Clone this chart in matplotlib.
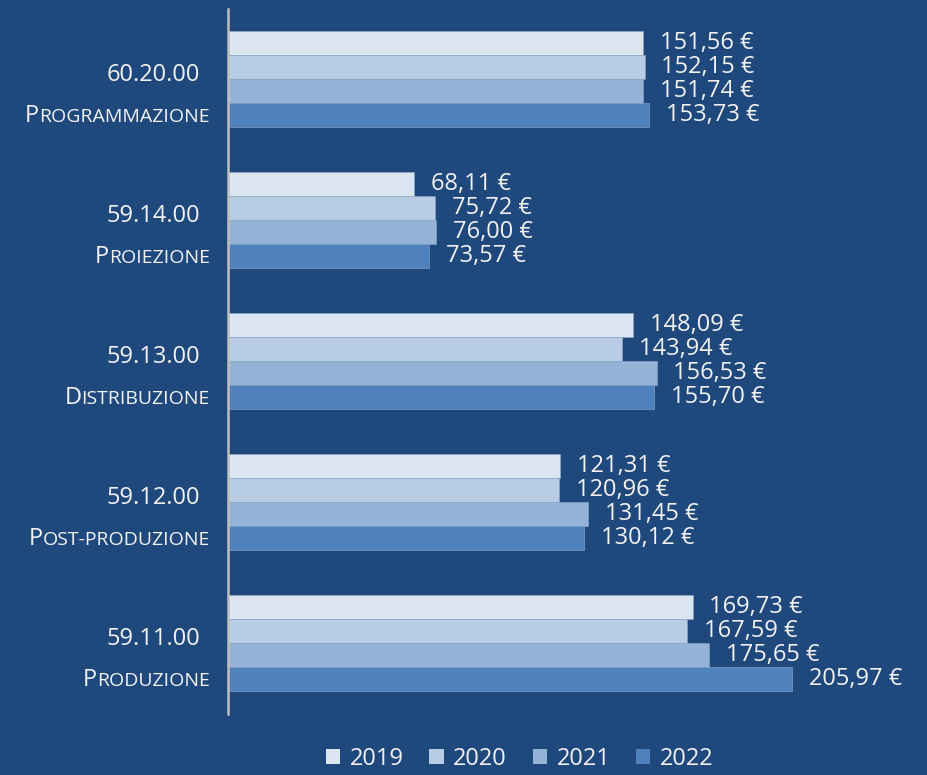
import numpy as np
import matplotlib
matplotlib.use("Agg")
import matplotlib.pyplot as plt

plt.rcParams["font.family"] = ["Open Sans", "DejaVu Sans"]

codes = ["59.11.00", "59.12.00", "59.13.00", "59.14.00", "60.20.00"]
names = ["Produzione", "Post-produzione", "Distribuzione", "Proiezione", "Programmazione"]
years = ["2019", "2020", "2021", "2022"]
v2019 = [169.73, 121.31, 148.09, 68.11, 151.56]
v2020 = [167.59, 120.96, 143.94, 75.72, 152.15]
v2021 = [175.65, 131.45, 156.53, 76.00, 151.74]
v2022 = [205.97, 130.12, 155.70, 73.57, 153.73]
colors = ["#DCE6F1", "#B8CCE4", "#95B3D7", "#4F81BD"]

bg = "#1F497D"
fg = "#F2F2F2"

fig = plt.figure(figsize=(9.28, 7.75), dpi=100, facecolor=bg)
ax = fig.add_axes([228 / 928, 61.5 / 775, 1 - 228 / 928, 705 / 775])
ax.set_facecolor(bg)

y = np.arange(len(codes))
h = 0.17
series = [v2019, v2020, v2021, v2022]
for i, (vals, c, yr) in enumerate(zip(series, colors, years)):
    pos = y + (1.5 - i) * h
    ax.barh(pos, vals, height=h, color=c, edgecolor="#8EA9CC", linewidth=0.4, label=yr)
    for yy, v in zip(pos, vals):
        ax.annotate(f"{v:.2f} €".replace(".", ","), xy=(v, yy), xytext=(12, 0),
                    textcoords="offset points", va="center", ha="left",
                    color=fg, fontsize=17)

ax.set_xlim(0, 700 / 2.738)
ax.set_ylim(-0.5, len(codes) - 0.5)
for s in ["top", "right", "bottom"]:
    ax.spines[s].set_visible(False)
ax.spines["left"].set_color("#BFBFBF")
ax.spines["left"].set_linewidth(1.8)
ax.set_xticks([])
ax.set_yticks([])

renderer = fig.canvas.get_renderer()
px2pt = 72 / fig.dpi


def small_caps(text, yy, right_px, dy_pt, big=17, small=14):
    # split into runs of capitals (big) and lowercase (small, shown uppercase)
    runs = []
    for ch in text:
        kind = ch.isupper()
        if runs and runs[-1][0] == kind:
            runs[-1][1] += ch
        else:
            runs.append([kind, ch])
    offset = -right_px
    for kind, s in reversed(runs):
        t = ax.annotate(s.upper(), xy=(0, yy), xytext=(offset * px2pt, dy_pt),
                        textcoords="offset points", ha="right", va="baseline",
                        color=fg, fontsize=big if kind else small,
                        annotation_clip=False)
        w = t.get_window_extent(renderer).width
        offset -= w


for yy, code, name in zip(y, codes, names):
    ax.annotate(code, xy=(0, yy), xytext=(-28 * px2pt, 3),
                textcoords="offset points", ha="right", va="center",
                color=fg, fontsize=17, annotation_clip=False)
    small_caps(name, yy, 18, -31)

leg = fig.legend(loc="center", bbox_to_anchor=(0.56, 0.021), ncol=4, frameon=False,
                 fontsize=17, handlelength=0.6, handleheight=0.6,
                 handletextpad=0.4, columnspacing=1.1, borderpad=0.1)
for t in leg.get_texts():
    t.set_color(fg)
for p in leg.get_patches():
    p.set_linewidth(0)

fig.savefig("out.png", dpi=100, facecolor=bg)
